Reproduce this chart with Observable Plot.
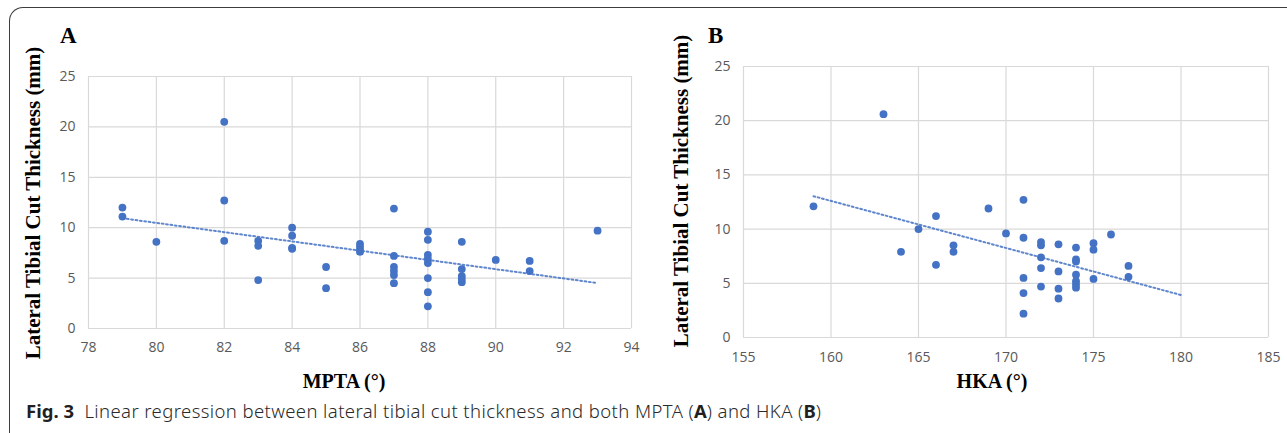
<!DOCTYPE html>
<html><head><meta charset="utf-8">
<script src="https://cdn.jsdelivr.net/npm/d3@7"></script>
<script src="https://cdn.jsdelivr.net/npm/@observablehq/plot@0.6"></script>
<style>
body{margin:0;background:#fff;}
#fig{position:relative;width:1287px;height:433px;overflow:hidden;background:#fff;}
.frame{position:absolute;left:9px;top:7px;width:1300px;height:460px;border-top:1.6px solid #3d3d3d;border-left:1.6px solid #3d3d3d;border-top-left-radius:14px;box-sizing:border-box;}
.panel{position:absolute;top:0;}
.letter{position:absolute;font-family:"Liberation Serif",serif;font-weight:bold;font-size:23px;line-height:1;color:#000;}
.ytitle{position:absolute;font-family:"Liberation Serif",serif;font-weight:bold;font-size:21px;line-height:1;white-space:nowrap;color:#000;transform:translate(-50%,-50%) rotate(-90deg);}
.xtitle{position:absolute;font-family:"Liberation Serif",serif;font-weight:bold;font-size:20px;line-height:1;white-space:nowrap;color:#000;transform:translate(-50%,-50%);}
.caption{position:absolute;left:26px;top:402px;font-family:"Noto Sans",sans-serif;font-size:18.5px;letter-spacing:0.4px;font-weight:300;line-height:1;color:#2a2a2a;white-space:nowrap;}
.caption b{font-weight:bold;color:#231f20;letter-spacing:0;}
</style>
</head><body>
<div id="fig">
  <div class="frame"></div>
  <div class="panel" id="pa" style="left:0px"></div>
  <div class="panel" id="pb" style="left:650px"></div>
  <div class="letter" style="left:60px;top:24px">A</div>
  <div class="letter" style="left:708px;top:24px">B</div>
  <div class="ytitle" style="left:33px;top:203px">Lateral Tibial Cut Thickness (mm)</div>
  <div class="ytitle" style="left:681px;top:191px">Lateral Tibial Cut Thickness (mm)</div>
  <div class="xtitle" style="left:344px;top:381px">MPTA (°)</div>
  <div class="xtitle" style="left:992px;top:381px">HKA (°)</div>
  <div class="caption"><b>Fig. 3</b>&nbsp; Linear regression between lateral tibial cut thickness and both MPTA (<b>A</b>) and HKA (<b>B</b>)</div>
</div>
<script>
// Panel A: MPTA (°) vs lateral tibial cut thickness (mm)
const mptaX = [79,79,80,82,82,82,83,83,83,84,84,84,84,85,85,86,86,86,86,87,87,87,87,87,87,88,88,88,88,88,88,88,88,89,89,89,89,89,90,91,91,93];
const mptaY = [12.0,11.1,8.6,20.5,12.7,8.7,8.7,8.2,4.8,10.0,9.2,8.0,7.9,6.1,4.0,8.4,8.1,7.8,7.6,11.9,7.2,6.1,5.7,5.3,4.5,9.6,8.8,7.3,6.9,6.5,5.0,3.6,2.2,8.6,5.9,5.2,4.9,4.6,6.8,6.7,5.7,9.7];
// Panel B: HKA (°) vs lateral tibial cut thickness (mm)
const hkaX = [159,163,164,165,166,166,167,167,169,170,171,171,171,171,171,172,172,172,172,172,173,173,173,173,174,174,174,174,174,174,174,175,175,175,176,177,177];
const hkaY = [12.1,20.6,7.9,10.0,11.2,6.7,8.5,7.9,11.9,9.6,12.7,9.2,5.5,4.1,2.2,8.8,8.5,7.4,6.4,4.7,8.6,6.1,4.5,3.6,8.3,7.2,7.0,5.8,5.2,4.9,4.6,8.7,8.1,5.4,9.5,6.6,5.6];
// Tick labels
const xTicksA = [78,80,82,84,86,88,90,92,94];
const xTicksB = [155,160,165,170,175,180,185];
const yTicks = [0,5,10,15,20,25];
// Excel-style trendline forecast (periods forward)
const forwardA = 0;
const forwardB = 3;

const blue = "#4472c4";

function trend(xs, ys, forward) {
  const mx = d3.mean(xs), my = d3.mean(ys);
  let sxy = 0, sxx = 0;
  for (let i = 0; i < xs.length; i++) { sxy += (xs[i]-mx)*(ys[i]-my); sxx += (xs[i]-mx)**2; }
  const b = sxy / sxx, a = my - b*mx;
  const x0 = d3.min(xs), x1 = d3.max(xs) + forward;
  return [{x: x0, y: a + b*x0}, {x: x1, y: a + b*x1}];
}

function panel(xs, ys, xTicks, xDomain, forward, dims) {
  return Plot.plot({
    width: dims.width, height: dims.height,
    marginLeft: dims.ml, marginRight: dims.mr, marginTop: dims.mt, marginBottom: dims.mb,
    x: {domain: xDomain, ticks: xTicks, tickSize: 0, tickPadding: dims.xpad, label: null, tickFormat: d => String(d)},
    y: {domain: [0, 25], ticks: yTicks, tickSize: 0, tickPadding: 13, label: null, tickFormat: d => String(d)},
    style: {fontFamily: "'Open Sans', sans-serif", fontSize: "14px", color: "#595959", background: "transparent", overflow: "visible"},
    marks: [
      Plot.ruleX(xTicks, {stroke: "#d9d9d9", strokeWidth: 1.2}),
      Plot.ruleY(yTicks, {stroke: "#d9d9d9", strokeWidth: 1.2}),
      Plot.line(trend(xs, ys, forward), {x: "x", y: "y", stroke: blue, strokeWidth: 2, strokeDasharray: "1.8,2.6", strokeOpacity: 0.85}),
      Plot.dot(xs, {x: xs, y: ys, r: 3.9, fill: blue, stroke: "none"})
    ]
  });
}

document.getElementById("pa").appendChild(
  panel(mptaX, mptaY, xTicksA, [78, 94], forwardA, {width: 660, height: 400, ml: 88, mr: 29, mt: 76, mb: 72, xpad: 14})
);
document.getElementById("pb").appendChild(
  panel(hkaX, hkaY, xTicksB, [155, 185], forwardB, {width: 637, height: 400, ml: 93, mr: 19, mt: 66, mb: 63, xpad: 15})
);
</script>
</body></html>
